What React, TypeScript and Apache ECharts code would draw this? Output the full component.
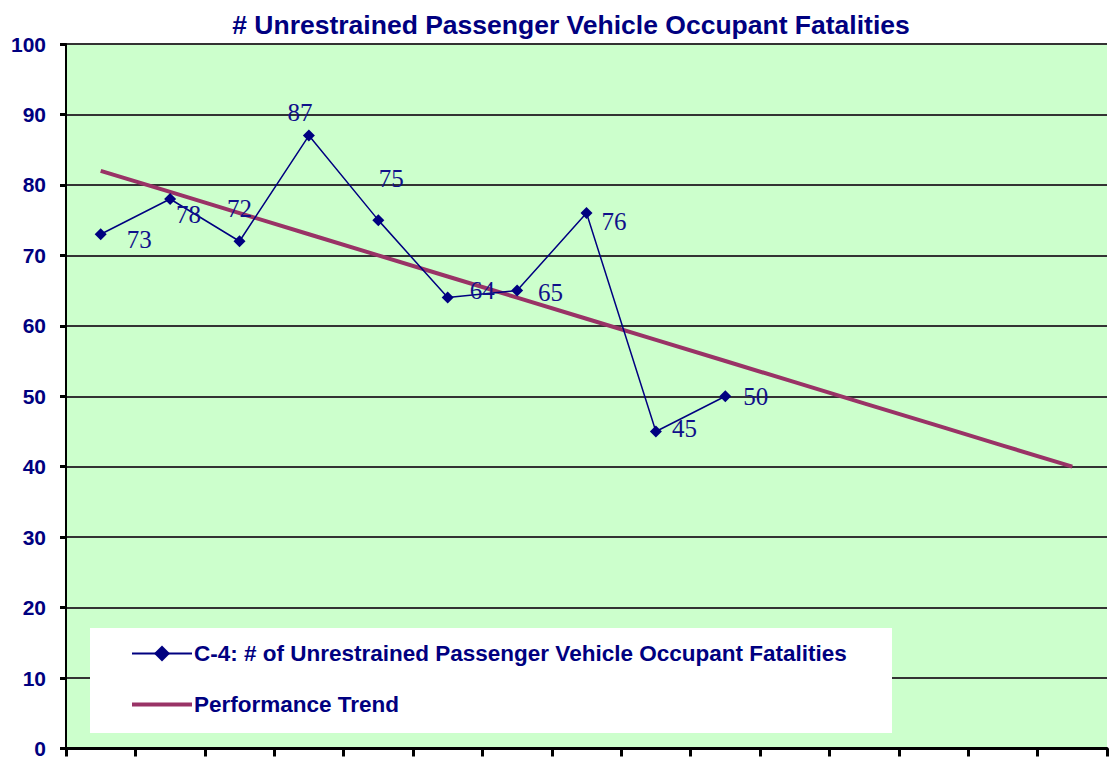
import React, { useEffect, useRef } from "react";
import * as echarts from "echarts";

const categories = ["2000", "2001", "2002", "2003", "2004", "2005", "2006", "2007", "2008", "2009", "2010", "2011", "2012", "2013", "2014"];
const fatalities = [73, 78, 72, 87, 75, 64, 65, 76, 45, 50];
const trend = [82, 79, 76, 73, 70, 67, 64, 61, 58, 55, 52, 49, 46, 43, 40];
const yTicks = { min: 0, max: 100, interval: 10 };
const titleText = "# Unrestrained Passenger Vehicle Occupant Fatalities";
const seriesNames = ["C-4: # of Unrestrained Passenger Vehicle Occupant Fatalities", "Performance Trend"];

// label placement per point (style only)
const labelPlacement: { position: string; distance: number; offset: [number, number] }[] = [
  { position: "right", distance: 20, offset: [0, 5] },
  { position: "right", distance: 0, offset: [0, 16] },
  { position: "top", distance: 14, offset: [0, 0] },
  { position: "top", distance: 5, offset: [-9, 0] },
  { position: "top", distance: 23, offset: [13, 0] },
  { position: "right", distance: 16, offset: [0, -7] },
  { position: "right", distance: 15, offset: [0, 2] },
  { position: "right", distance: 9, offset: [0, 8] },
  { position: "right", distance: 10, offset: [0, -3] },
  { position: "right", distance: 12, offset: [0, 0] },
];

const NAVY = "#000080";

export default function App() {
  const ref = useRef<HTMLDivElement>(null);
  useEffect(() => {
    if (!ref.current) return;
    const chart = echarts.init(ref.current, null, { renderer: "svg" });
    const option: any = {
      animation: false,
      backgroundColor: "#ffffff",
      title: {
        text: titleText,
        left: 566,
        textAlign: "center",
        top: 6,
        textStyle: { fontFamily: "Liberation Sans", fontWeight: 900, fontSize: 26.5, color: NAVY },
      },
      grid: {
        left: 66,
        right: 5,
        top: 44,
        bottom: 7,
        show: true,
        backgroundColor: "#ccffcc",
        borderWidth: 0,
      },
      graphic: [
        {
          type: "rect",
          shape: { x: 90, y: 628, width: 802, height: 105 },
          style: { fill: "#ffffff" },
          z: 1,
        },
      ],
      legend: {
        orient: "vertical",
        left: 131,
        top: 642,
        padding: 0,
        itemWidth: 60,
        itemHeight: 20,
        itemGap: 28,
        symbolKeepAspect: true,
        data: [
          { name: seriesNames[0] },
          { name: seriesNames[1], icon: "path://M0 0H60V4H0Z" },
        ],
        textStyle: { fontFamily: "Liberation Sans", fontWeight: "bold", fontSize: 22.5, color: NAVY, padding: [0, 0, 0, -3] },
      },
      xAxis: {
        type: "category",
        data: categories,
        boundaryGap: true,
        axisLine: { show: true, lineStyle: { color: "#000", width: 3 } },
        axisTick: { show: true, length: 8, lineStyle: { color: "#000", width: 3 } },
        axisLabel: { show: false },
        splitLine: { show: false },
      },
      yAxis: {
        type: "value",
        min: yTicks.min,
        max: yTicks.max,
        interval: yTicks.interval,
        axisLine: { show: true, lineStyle: { color: "#000", width: 2 } },
        axisTick: { show: true, length: 6, lineStyle: { color: "#000", width: 3 } },
        axisLabel: { margin: 20, fontFamily: "Liberation Sans", fontWeight: "bold", fontSize: 21, color: NAVY },
        splitLine: { show: true, lineStyle: { color: "#333", width: 2 } },
      },
      series: [
        {
          name: seriesNames[0],
          type: "line",
          data: fatalities.map((v, i) => ({
            value: v,
            label: {
              show: true,
              position: labelPlacement[i].position,
              distance: labelPlacement[i].distance,
              offset: labelPlacement[i].offset,
            },
          })),
          symbol: "diamond",
          symbolSize: 12,
          z: 4,
          itemStyle: { color: NAVY },
          lineStyle: { color: NAVY, width: 1.5 },
          label: {
            show: true,
            fontFamily: "Liberation Serif",
            fontSize: 25,
            color: "#10108a",
          },
        },
        {
          name: seriesNames[1],
          type: "line",
          data: trend,
          symbol: "none",
          z: 3,
          lineStyle: { color: "#993366", width: 4 },
          itemStyle: { color: "#993366" },
        },
      ],
    };
    chart.setOption(option);
    return () => chart.dispose();
  }, []);
  return <div ref={ref} style={{ position: "fixed", left: 0, top: 0, width: 1112, height: 759 }} />;
}
